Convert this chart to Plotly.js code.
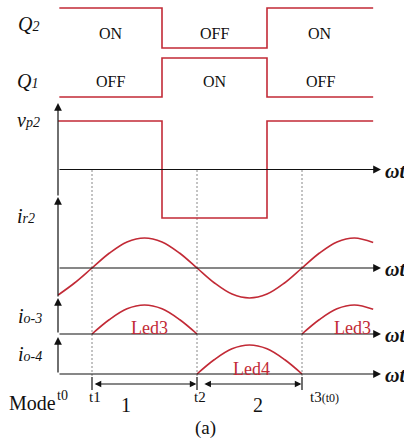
<!DOCTYPE html>
<html><head><meta charset="utf-8">
<script src="https://cdn.plot.ly/plotly-3.0.1.min.js"></script>
<style>html,body{margin:0;padding:0;background:#fff}#chart{width:404px;height:445px}</style>
</head><body><div id="chart"></div>
<script>
// Phase in degrees (t1 = 0°, t2 = 180°, t3 = 360°)
const phaseQ = [-56, 120, 120, 300, 300, 482];
const q2State = [1, 1, 0, 0, 1, 1];
const q1State = [0, 0, 1, 1, 0, 0];
const phaseVp = [-58, 120, 120, 300, 300, 482];
const vp2Value = [1, 1, -1, -1, 1, 1];
const phaseIr = [-58, -30, 0, 30, 60, 90, 120, 150, 180, 210, 240, 270, 300, 330, 360, 390, 420, 450, 482];
const ir2Value = [-0.9, -0.5, 0, 0.5, 0.87, 1, 0.87, 0.5, 0, -0.5, -0.87, -1, -0.87, -0.5, 0, 0.5, 0.87, 1, 0.85];
const phaseIo3 = [0, 30, 60, 90, 120, 150, 180, null, 360, 390, 420, 450, 482];
const io3Value = [0, 0.5, 0.87, 1, 0.87, 0.5, 0, null, 0, 0.5, 0.87, 1, 0.85];
const phaseIo4 = [180, 210, 240, 270, 300, 330, 360];
const io4Value = [0, 0.5, 0.87, 1, 0.87, 0.5, 0];
const modeTimes = [0, 180, 360];
const modeTimeLabels = ['t1', 't2', 't3<span style="font-size:12px">(t0)</span>'];
const modeNames = ['1', '2'];
const modeNamePhase = [58, 285];
const q2Labels = ['ON', 'OFF', 'ON'];
const q1Labels = ['OFF', 'ON', 'OFF'];
const sub = s => '<span style="font-size:14px">' + s + '</span>';
const signalNames = ['<i>Q' + sub('2') + '</i>', '<i>Q' + sub('1') + '</i>', '<i>v' + sub('p2') + '</i>',
                     '<i>i' + sub('r2') + '</i>', '<i>i' + sub('o-3') + '</i>', '<i>i' + sub('o-4') + '</i>'];
const ledLabels = ['Led3', 'Led3', 'Led4'];

const W = 404, H = 445;
const X0 = 92, K = 105 / 180;           // pixel of t1, pixels per degree
const fx = px => px / W;
const fy = py => 1 - py / H;
const RED = '#c22a36', SERIF = 'Liberation Serif, Times New Roman, serif';

function yAxis(v0, p0, v1, p1) {
  const pad = 0.15 * (v1 - v0), s = (p0 - p1) / (v1 - v0);
  return {domain: [fy(p0 + pad * s), fy(p1 - pad * s)], range: [v0 - pad, v1 + pad],
          anchor: 'x', visible: false, fixedrange: true, showgrid: false, zeroline: false};
}

const lineStyle = {color: RED, width: 1.6};
const traces = [
  {x: phaseQ, y: q2State, yaxis: 'y'},
  {x: phaseQ, y: q1State, yaxis: 'y2'},
  {x: phaseVp, y: vp2Value, yaxis: 'y3'},
  {x: phaseIr, y: ir2Value, yaxis: 'y4', line: {shape: 'spline'}},
  {x: phaseIo3, y: io3Value, yaxis: 'y5', line: {shape: 'spline'}},
  {x: phaseIo4, y: io4Value, yaxis: 'y6', line: {shape: 'spline'}}
].map(t => Object.assign({type: 'scatter', mode: 'lines', xaxis: 'x', hoverinfo: 'skip', connectgaps: false},
  t, {line: Object.assign({}, lineStyle, t.line || {})}));

const ann = [];
const txt = (x, y, text, size, opts) => ann.push(Object.assign({x, y, text, xref: 'paper', yref: 'paper',
  showarrow: false, xanchor: 'center', yanchor: 'middle', font: {family: SERIF, size, color: '#111'}}, opts || {}));

// signal names
const namePos = [[29, 24], [27, 81], [29, 120], [26, 216], [30, 316], [30, 354]];
signalNames.forEach((s, i) => txt(fx(namePos[i][0]), fy(namePos[i][1]), s, 20));

// ON / OFF labels (centred in each switching segment)
const segMid = [(phaseQ[0] + phaseQ[1]) / 2, (phaseQ[2] + phaseQ[3]) / 2, (phaseQ[4] + phaseQ[5]) / 2];
q2Labels.forEach((s, i) => txt(segMid[i], fy(33), s, 16, {xref: 'x'}));
q1Labels.forEach((s, i) => txt(segMid[i], fy(82), s, 16, {xref: 'x'}));

// horizontal axes with arrows + ωt
const zeroAxes = [['y3', 0], ['y4', 0], ['y5', 0], ['y6', 0]];
const xEnd = (381 - X0) / K;
zeroAxes.forEach(([ya, v]) => {
  ann.push({x: xEnd, y: v, xref: 'x', yref: ya, text: '', showarrow: true, ax: -(381 - 58), ay: 0,
    arrowhead: 2, arrowsize: 1.3, arrowwidth: 1.2, arrowcolor: '#111'});
  ann.push({x: (383 - X0) / K, y: v, xref: 'x', yref: ya, text: '<b><i>ωt</i></b>', showarrow: false,
    xanchor: 'left', yanchor: 'middle', yshift: -1, font: {family: SERIF, size: 20, color: '#111'}});
});
// vertical axis segments with arrows
[[103, 197], [197, 298], [298, 334], [337, 374]].forEach(([top, bot]) => {
  ann.push({x: fx(58), y: fy(top), xref: 'paper', yref: 'paper', text: '', showarrow: true, ax: 0, ay: bot - top,
    arrowhead: 2, arrowsize: 1.3, arrowwidth: 1.2, arrowcolor: '#111'});
});

// Led labels
const ledPos = [[98, 328], [446, 328], [274, 369]];
ledLabels.forEach((s, i) => ann.push({x: ledPos[i][0], y: fy(ledPos[i][1]), xref: 'x', yref: 'paper', text: s,
  xanchor: 'center', yanchor: 'middle', showarrow: false, font: {family: SERIF, size: 18, color: RED}}));

// Mode row
txt(fx(32), fy(403), 'Mode', 20);
txt(fx(62), fy(395), 't0', 14);
const tLabelX = [3, 3, 22];
modeTimes.forEach((t, i) => ann.push({x: t, y: fy(397), xref: 'x', yref: 'paper', text: modeTimeLabels[i],
  xanchor: 'center', yanchor: 'middle', xshift: tLabelX[i], showarrow: false, font: {family: SERIF, size: 15, color: '#111'}}));
const modeSpans = [[2, 179], [190, 359]];
modeSpans.forEach(([a, b], i) => {
  ann.push({x: b, y: fy(384), xref: 'x', yref: 'paper', text: '', showarrow: true,
    ax: -(b - a) * K, ay: 0, arrowside: 'end+start', arrowhead: 2, startarrowhead: 2,
    arrowsize: 1.1, startarrowsize: 1.1, arrowwidth: 1.2, arrowcolor: '#111'});
  ann.push({x: modeNamePhase[i], y: fy(405), xref: 'x', yref: 'paper', xanchor: 'center', yanchor: 'middle',
    text: modeNames[i], showarrow: false, font: {family: SERIF, size: 20, color: '#111'}});
});
txt(fx(205), fy(428), '(a)', 19);

// dashed guides and ticks
const shapes = [];
modeTimes.forEach(t => {
  shapes.push({type: 'line', xref: 'x', yref: 'paper', x0: t, x1: t, y0: fy(170), y1: fy(377),
    line: {color: '#888', width: 1, dash: '2px,2px'}, layer: 'below'});
  shapes.push({type: 'line', xref: 'x', yref: 'paper', x0: t, x1: t, y0: fy(377), y1: fy(390),
    line: {color: '#111', width: 1.2}});
});

const layout = {
  width: W, height: H, margin: {l: 0, r: 0, t: 0, b: 0},
  paper_bgcolor: '#fff', plot_bgcolor: 'rgba(0,0,0,0)', showlegend: false,
  xaxis: {range: [(0 - X0) / K, (W - X0) / K], domain: [0, 1], visible: false, fixedrange: true, anchor: 'y'},
  yaxis: yAxis(0, 48, 1, 8),
  yaxis2: yAxis(0, 97, 1, 58),
  yaxis3: yAxis(-1, 218, 1, 121),
  yaxis4: yAxis(-1, 298, 1, 238),
  yaxis5: yAxis(0, 334, 1, 305),
  yaxis6: yAxis(0, 374, 1, 345),
  annotations: ann, shapes: shapes
};
Plotly.newPlot('chart', traces, layout, {staticPlot: true, displayModeBar: false});
</script></body></html>
